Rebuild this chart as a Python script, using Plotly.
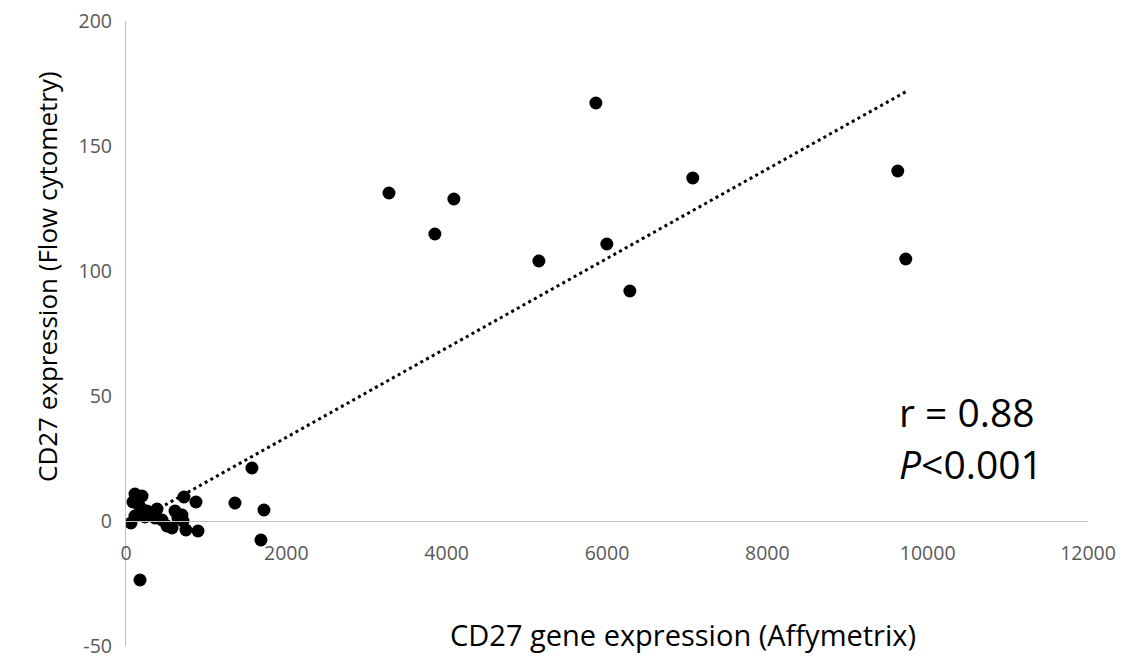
import numpy as np
import plotly.graph_objects as go

# CD27 gene expression (Affymetrix) vs CD27 expression (Flow cytometry)
affy = [3280, 3853, 4090, 5150, 5861, 5998, 6285, 7070, 9627, 9727,
        1571, 1359, 1721, 1683, 175,
        62, 87, 112, 200, 175, 112, 237, 262, 387, 449, 511, 574, 611,
        648, 698, 711, 723, 748, 873, 898, 362]
flow = [131.2, 114.8, 128.8, 104.0, 167.2, 110.8, 92.0, 137.2, 140.0, 104.8,
        21.2, 7.2, 4.4, -7.6, -23.6,
        -0.8, 7.6, 10.8, 10.0, 5.6, 2.0, 1.6, 4.0, 4.8, 0.4, -2.0, -2.8, 4.0,
        1.2, 2.4, 0.0, 9.6, -3.6, 7.6, -4.0, 1.2]

x_ticks = [0, 2000, 4000, 6000, 8000, 10000, 12000]
y_ticks = [-50, 0, 50, 100, 150, 200]
stats_text = ["r = 0.88", "<i>P</i><0.001"]
x_title = "CD27 gene expression (Affymetrix)"
y_title = "CD27 expression (Flow cytometry)"

xa = np.array(affy, dtype=float)
ya = np.array(flow, dtype=float)
slope, intercept = np.polyfit(xa, ya, 1)
trend_x = np.array([xa.min(), xa.max()])
trend_y = slope * trend_x + intercept

FONT = "Open Sans"
GRAY = "#595959"

# plot area (reference pixels): x 126..1088, y 21..646
def px_x(p):
    return (p - 126) / 962

def px_y(p):
    return (646 - p) / 625

fig = go.Figure()
fig.add_trace(go.Scatter(x=trend_x, y=trend_y, mode="lines",
                         line=dict(color="black", width=3, dash="3px,3.5px"),
                         hoverinfo="skip", showlegend=False))
fig.add_trace(go.Scatter(x=affy, y=flow, mode="markers",
                         marker=dict(color="black", size=13),
                         showlegend=False))

fig.update_layout(
    width=1125, height=663,
    margin=dict(l=118, r=45, t=13, b=25),
    paper_bgcolor="white", plot_bgcolor="white",
    font=dict(family=FONT, color=GRAY),
    xaxis=dict(range=[0, 12000], tickvals=x_ticks, ticktext=[str(v) for v in x_ticks],
               showgrid=False, zeroline=False, showline=True, linecolor="#bfbfbf",
               linewidth=1.3, ticks="", anchor="free", position=0.2, automargin=False,
               tickfont=dict(size=19.5, color=GRAY, family=FONT), ticklabelstandoff=14),
    yaxis=dict(range=[-50, 200.01], tickvals=y_ticks, ticktext=[str(v) for v in y_ticks],
               showgrid=False, zeroline=False, showline=True, linecolor="#bfbfbf",
               linewidth=1.3, ticks="", ticklabeloverflow="allow", automargin=False,
               tickfont=dict(size=19.5, color=GRAY, family=FONT), ticklabelstandoff=9),
    annotations=[
        dict(text=x_title, xref="paper", yref="paper", x=px_x(683), y=px_y(634),
             xanchor="center", yanchor="middle", showarrow=False,
             font=dict(size=29, color="black", family=FONT)),
        dict(text=y_title, xref="paper", yref="paper", x=px_x(47), y=px_y(277),
             xanchor="center", yanchor="middle", showarrow=False, textangle=-90,
             font=dict(size=26, color="black", family=FONT)),
        dict(text=stats_text[0], xref="paper", yref="paper", x=px_x(897),
             y=px_y(412), xanchor="left", yanchor="middle", showarrow=False,
             font=dict(size=39, color="black", family=FONT)),
        dict(text=stats_text[1], xref="paper", yref="paper", x=px_x(897),
             y=px_y(463), xanchor="left", yanchor="middle", showarrow=False,
             font=dict(size=39, color="black", family=FONT)),
    ],
)

fig.write_html("out.html")
